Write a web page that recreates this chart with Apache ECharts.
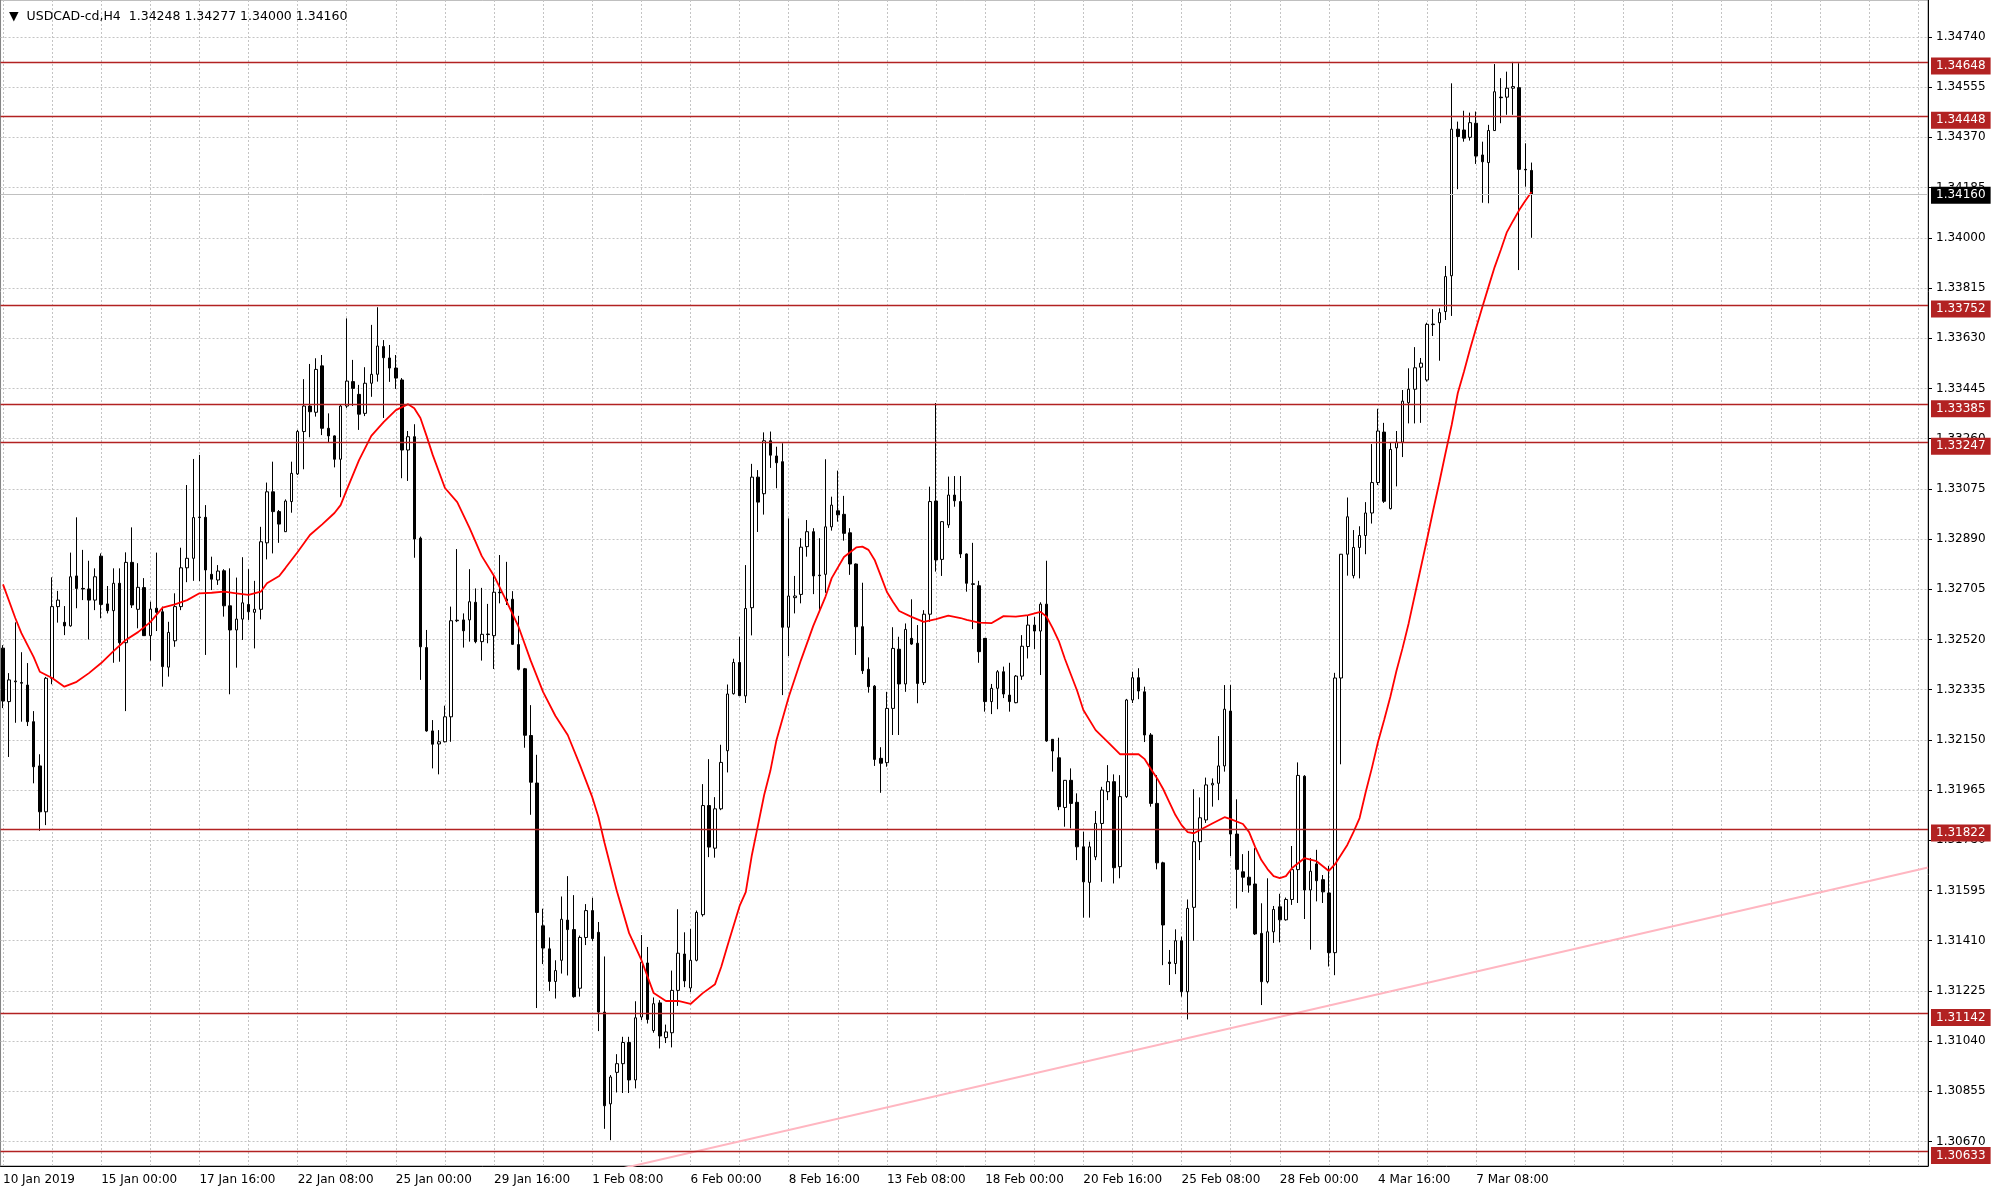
<!DOCTYPE html>
<html><head><meta charset="utf-8">
<script src="https://cdn.jsdelivr.net/npm/echarts@6/dist/echarts.min.js"></script>
<style>html,body{margin:0;padding:0;background:#fff}#c{width:2000px;height:1194px}</style>
</head><body><div id="c"></div>
<script>
// ---- data (USDCAD H4, bar 0 = 10 Jan 2019 08:00) ----
const openP = [
1.32488,1.32291,1.32364,1.32361,1.32352,1.32217,1.32054,1.31885,1.32377,1.32641,
1.32583,1.32570,1.32754,1.32708,1.32706,1.32665,1.32827,1.32651,1.32626,1.32727,
1.32508,1.32804,1.32631,1.32711,1.32534,1.32635,1.32622,1.32418,1.32515,1.32641,
1.32784,1.32819,1.32969,1.32970,1.32760,1.32739,1.32773,1.32644,1.32555,1.32595,
1.32649,1.32620,1.32631,1.32876,1.33064,1.32991,1.32917,1.33028,1.33130,1.33286,
1.33380,1.33357,1.33528,1.33298,1.33270,1.33184,1.33380,1.33470,1.33423,1.33353,
1.33464,1.33497,1.33599,1.33557,1.33520,1.33476,1.33218,1.33267,1.32893,1.32490,
1.32183,1.32135,1.32143,1.32235,1.32589,1.32592,1.32592,1.32657,1.32512,1.32540,
1.32534,1.32694,1.32669,1.32668,1.32501,1.32412,1.32166,1.31991,1.31465,1.31380,
1.31260,1.31338,1.31486,1.31451,1.31235,1.31422,1.31521,1.31441,1.31147,1.30809,
1.30925,1.30957,1.31035,1.30897,1.31129,1.31328,1.31079,1.31181,1.31053,1.31071,
1.31227,1.31361,1.31236,1.31338,1.31506,1.31908,1.31751,1.31896,1.32110,1.32320,
1.32435,1.32312,1.32637,1.33118,1.33057,1.33252,1.33196,1.33175,1.32565,1.32674,
1.32686,1.32862,1.32917,1.32757,1.32760,1.32935,1.32994,1.32981,1.32913,1.32798,
1.32567,1.32410,1.32348,1.32082,1.32066,1.32266,1.32484,1.32356,1.32524,1.32506,
1.32361,1.32613,1.33030,1.32815,1.32942,1.33052,1.33028,1.32835,1.32725,1.32718,
1.32524,1.32291,1.32340,1.32401,1.32315,1.32287,1.32385,1.32494,1.32573,1.32551,
1.32650,1.32152,1.32084,1.31901,1.32001,1.31920,1.31756,1.31625,1.31719,1.31842,
1.31959,1.31996,1.31683,1.31941,1.32297,1.32379,1.32327,1.32168,1.31916,1.31697,
1.31331,1.31326,1.31410,1.31222,1.31533,1.31775,1.31855,1.31984,1.31990,1.32054,
1.32256,1.31803,1.31664,1.31644,1.31619,1.31437,1.31259,1.31443,1.31535,1.31487,
1.31562,1.31672,1.32016,1.31597,1.31693,1.31635,1.31586,1.31366,1.32378,1.32834,
1.32755,1.32859,1.32903,1.32986,1.33098,1.33284,1.33002,1.33226,1.33247,1.33392,
1.33442,1.33523,1.33476,1.33682,1.33687,1.33728,1.33860,1.34400,1.34397,1.34370,
1.34422,1.34305,1.34277,1.34395,1.34518,1.34518,1.34551,1.34553,1.34252,1.34248];
const highP = [
1.32499,1.32396,1.32583,1.32473,1.32433,1.32256,1.32097,1.32382,1.32749,1.32699,
1.32643,1.32840,1.32970,1.32850,1.32810,1.32782,1.32837,1.32717,1.32782,1.32782,
1.32841,1.32933,1.32801,1.32746,1.32659,1.32840,1.32641,1.32585,1.32690,1.32858,
1.33089,1.33185,1.33200,1.33015,1.32825,1.32794,1.32779,1.32782,1.32748,1.32823,
1.32779,1.32736,1.32935,1.33098,1.33175,1.32997,1.33036,1.33175,1.33292,1.33479,
1.33535,1.33556,1.33568,1.33353,1.33272,1.33384,1.33703,1.33550,1.33458,1.33523,
1.33679,1.33744,1.33623,1.33605,1.33568,1.33483,1.33288,1.33313,1.32899,1.32555,
1.32223,1.32186,1.32276,1.32641,1.32853,1.32616,1.32779,1.32708,1.32710,1.32651,
1.32755,1.32831,1.32806,1.32698,1.32607,1.32415,1.32278,1.32095,1.31528,1.31422,
1.31338,1.31573,1.31648,1.31578,1.31429,1.31545,1.31568,1.31479,1.31352,1.30915,
1.30992,1.31056,1.31056,1.31187,1.31431,1.31387,1.31201,1.31191,1.31101,1.31300,
1.31526,1.31441,1.31453,1.31521,1.31987,1.32079,1.31939,1.32132,1.32354,1.32449,
1.32530,1.32794,1.33167,1.33144,1.33283,1.33286,1.33230,1.33243,1.32966,1.32754,
1.32893,1.32960,1.32930,1.32893,1.33184,1.33046,1.33142,1.33049,1.32930,1.32800,
1.32729,1.32454,1.32352,1.32123,1.32327,1.32565,1.32530,1.32579,1.32668,1.32573,
1.32628,1.33083,1.33391,1.32956,1.33120,1.33122,1.33122,1.32837,1.32876,1.32736,
1.32525,1.32356,1.32407,1.32420,1.32434,1.32389,1.32536,1.32607,1.32603,1.32657,
1.32810,1.32153,1.32158,1.32002,1.32045,1.31953,1.31812,1.31775,1.31888,1.31977,
1.32057,1.32023,1.32020,1.32301,1.32401,1.32414,1.32346,1.32175,1.32020,1.31701,
1.31376,1.31452,1.31425,1.31562,1.31968,1.31938,1.32011,1.32008,1.32164,1.32352,
1.32352,1.31931,1.31729,1.31741,1.31751,1.31548,1.31640,1.31538,1.31583,1.31569,
1.31759,1.32067,1.32020,1.31715,1.31745,1.31652,1.31686,1.32397,1.32835,1.33043,
1.32923,1.32937,1.33026,1.33240,1.33370,1.33318,1.33247,1.33288,1.33439,1.33519,
1.33597,1.33557,1.33687,1.33737,1.33740,1.33896,1.34569,1.34428,1.34468,1.34461,
1.34465,1.34354,1.34416,1.34640,1.34588,1.34612,1.34648,1.34643,1.34348,1.34277];
const lowP = [
1.32267,1.32087,1.32213,1.32217,1.32201,1.31990,1.31815,1.31836,1.32355,1.32582,
1.32536,1.32567,1.32635,1.32665,1.32520,1.32628,1.32598,1.32616,1.32434,1.32438,
1.32256,1.32636,1.32561,1.32533,1.32442,1.32551,1.32346,1.32383,1.32493,1.32628,
1.32731,1.32736,1.32735,1.32463,1.32702,1.32721,1.32604,1.32318,1.32416,1.32518,
1.32592,1.32487,1.32594,1.32815,1.32837,1.32876,1.32916,1.32987,1.33126,1.33147,
1.33265,1.33341,1.33273,1.33245,1.33154,1.33044,1.33373,1.33380,1.33292,1.33343,
1.33414,1.33470,1.33336,1.33469,1.33443,1.33114,1.33104,1.32821,1.32371,1.32180,
1.32045,1.32023,1.32141,1.32143,1.32584,1.32490,1.32512,1.32506,1.32442,1.32506,
1.32411,1.32653,1.32647,1.32500,1.32406,1.32121,1.31874,1.31162,1.31324,1.31225,
1.31197,1.31289,1.31282,1.31200,1.31204,1.31394,1.31409,1.31077,1.30717,1.30675,
1.30851,1.30849,1.30849,1.30866,1.31118,1.31105,1.31071,1.31013,1.31033,1.31017,
1.31170,1.31239,1.31221,1.31334,1.31499,1.31718,1.31716,1.31891,1.32030,1.32317,
1.32312,1.32286,1.32535,1.32916,1.32980,1.33152,1.33077,1.32315,1.32459,1.32616,
1.32653,1.32825,1.32687,1.32626,1.32692,1.32921,1.32954,1.32884,1.32758,1.32463,
1.32393,1.32324,1.32054,1.31955,1.32051,1.32168,1.32168,1.32327,1.32500,1.32285,
1.32352,1.32585,1.32770,1.32754,1.32931,1.33009,1.32820,1.32696,1.32558,1.32434,
1.32254,1.32245,1.32263,1.32304,1.32254,1.32285,1.32371,1.32450,1.32485,1.32389,
1.32143,1.32033,1.31891,1.31830,1.31824,1.31707,1.31495,1.31495,1.31707,1.31627,
1.31928,1.31621,1.31640,1.31936,1.32286,1.32300,1.32142,1.31904,1.31673,1.31320,
1.31247,1.31287,1.31204,1.31120,1.31410,1.31707,1.31844,1.31904,1.31928,1.32033,
1.31722,1.31529,1.31590,1.31587,1.31431,1.31173,1.31253,1.31402,1.31404,1.31484,
1.31542,1.31549,1.31490,1.31377,1.31555,1.31549,1.31315,1.31283,1.32060,1.32755,
1.32745,1.32745,1.32834,1.32947,1.33089,1.33023,1.32999,1.33084,1.33192,1.33316,
1.33316,1.33318,1.33470,1.33638,1.33547,1.33697,1.33712,1.34179,1.34354,1.34358,
1.34272,1.34129,1.34127,1.34394,1.34422,1.34453,1.34453,1.33881,1.34188,1.34000];
const closeP = [
1.32293,1.32371,1.32367,1.32359,1.32217,1.32051,1.31885,1.32377,1.32641,1.32665,
1.32570,1.32751,1.32708,1.32706,1.32665,1.32751,1.32649,1.32626,1.32727,1.32508,
1.32804,1.32647,1.32712,1.32534,1.32632,1.32620,1.32420,1.32546,1.32641,1.32784,
1.32819,1.32969,1.32971,1.32776,1.32742,1.32772,1.32644,1.32555,1.32595,1.32655,
1.32622,1.32631,1.32880,1.33064,1.32991,1.32945,1.33030,1.33132,1.33286,1.33380,
1.33359,1.33515,1.33298,1.33270,1.33184,1.33380,1.33472,1.33445,1.33350,1.33464,
1.33497,1.33601,1.33558,1.33520,1.33483,1.33218,1.33267,1.32890,1.32493,1.32183,
1.32134,1.32143,1.32235,1.32589,1.32591,1.32552,1.32659,1.32512,1.32539,1.32538,
1.32694,1.32692,1.32662,1.32502,1.32410,1.32167,1.31994,1.31514,1.31383,1.31260,
1.31300,1.31489,1.31451,1.31204,1.31422,1.31521,1.31418,1.31147,1.30802,1.30908,
1.30957,1.31035,1.30897,1.31126,1.31331,1.31120,1.31178,1.31059,1.31074,1.31227,
1.31364,1.31262,1.31338,1.31514,1.31908,1.31755,1.31896,1.32067,1.32319,1.32435,
1.32313,1.32634,1.33118,1.33026,1.33252,1.33199,1.33171,1.32565,1.32680,1.32680,
1.32860,1.32917,1.32754,1.32755,1.32935,1.33015,1.32979,1.32911,1.32798,1.32567,
1.32405,1.32346,1.32078,1.32064,1.32266,1.32487,1.32356,1.32557,1.32503,1.32358,
1.32613,1.33028,1.32813,1.32954,1.33052,1.33031,1.32835,1.32727,1.32723,1.32475,
1.32291,1.32340,1.32401,1.32319,1.32291,1.32385,1.32495,1.32573,1.32551,1.32650,
1.32146,1.32109,1.31904,1.32001,1.31916,1.31756,1.31627,1.31756,1.31842,1.31965,
1.31996,1.31679,1.31941,1.32297,1.32379,1.32330,1.32168,1.31916,1.31697,1.31468,
1.31326,1.31410,1.31222,1.31529,1.31775,1.31863,1.31984,1.31990,1.32054,1.32263,
1.31803,1.31673,1.31644,1.31615,1.31435,1.31259,1.31443,1.31525,1.31487,1.31562,
1.31672,1.32019,1.31597,1.31666,1.31631,1.31590,1.31366,1.32378,1.32834,1.32972,
1.32859,1.32903,1.32986,1.33098,1.33288,1.33029,1.33220,1.33247,1.33398,1.33442,
1.33521,1.33538,1.33681,1.33680,1.33724,1.33857,1.34400,1.34373,1.34367,1.34424,
1.34301,1.34280,1.34395,1.34538,1.34516,1.34551,1.34557,1.34252,1.34250,1.34160];

// moving average (red line), read at these bars
const maBars = [0,2,3,5,6,8,10,12,14,16,18,20,22,24,26,28,30,32,34,36,38,40,42,43,45,46,48,50,52,54,55,56,58,60,62,64,66,67,68,69,70,72,74,76,78,80,82,84,86,88,90,92,94,96,97,98,100,102,104,106,108,110,112,114,116,117,118,120,121,122,123,124,125,126,128,130,132,134,135,137,139,140,141,142,143,144,145,146,148,150,152,154,156,157,159,161,163,165,167,169,170,171,172,173,174,175,176,178,180,182,185,186,187,188,189,190,191,192,193,194,195,197,199,200,202,203,204,205,206,207,208,209,210,212,214,216,217,219,220,221,222,223,224,225,226,227,228,229,230,231,232,233,234,235,236,237,238,239,240,241,242,243,244,245,246,247,248,249];
const maValues = [1.32723,1.32599,1.32543,1.32455,1.32401,1.32378,1.32346,1.32364,1.32396,1.32433,1.32477,1.32518,1.32547,1.32584,1.32637,1.32649,1.32665,1.32690,1.32692,1.32696,1.32690,1.32684,1.32696,1.32727,1.32754,1.32783,1.32842,1.32905,1.32944,1.32986,1.33015,1.33071,1.33181,1.33270,1.33321,1.33365,1.33387,1.33372,1.33336,1.33270,1.33200,1.33078,1.33026,1.32931,1.32827,1.32754,1.32662,1.32566,1.32440,1.32326,1.32238,1.32168,1.32057,1.31939,1.31866,1.31770,1.31593,1.31438,1.31339,1.31217,1.31188,1.31188,1.31177,1.31217,1.31250,1.31313,1.31390,1.31538,1.31589,1.31726,1.31836,1.31947,1.32035,1.32149,1.32308,1.32444,1.32570,1.32678,1.32746,1.32824,1.32859,1.32862,1.32850,1.32813,1.32754,1.32695,1.32658,1.32625,1.32603,1.32585,1.32595,1.32608,1.32599,1.32592,1.32582,1.32580,1.32606,1.32604,1.32610,1.32622,1.32604,1.32562,1.32514,1.32448,1.32389,1.32330,1.32260,1.32186,1.32142,1.32097,1.32097,1.32079,1.32043,1.32009,1.31969,1.31921,1.31873,1.31836,1.31810,1.31806,1.31818,1.31842,1.31865,1.31858,1.31840,1.31810,1.31755,1.31707,1.31674,1.31648,1.31641,1.31648,1.31678,1.31714,1.31703,1.31667,1.31692,1.31763,1.31810,1.31862,1.31958,1.32046,1.32142,1.32223,1.32308,1.32404,1.32488,1.32580,1.32684,1.32787,1.32890,1.32997,1.33100,1.33207,1.33310,1.33428,1.33506,1.33590,1.33668,1.33745,1.33819,1.33892,1.33955,1.34021,1.34062,1.34102,1.34136,1.34169];

const levelPrices = [1.34648,1.34448,1.33752,1.33385,1.33247,1.31822,1.31142,1.30633];
const bidPrice = 1.34160;
const trendBars = [94.9, 313.6];
const trendPrices = [1.30540, 1.31680];

const yTicks = [1.30670,1.30855,1.31040,1.31225,1.31410,1.31595,1.31780,1.31965,1.32150,1.32335,1.32520,1.32705,1.32890,1.33075,1.33260,1.33445,1.33630,1.33815,1.34000,1.34185,1.34370,1.34555,1.34740];
const timeLabelBars = [0,16,32,48,64,80,96,112,128,144,160,176,192,208,224,240];
const timeLabels = ['10 Jan 2019','15 Jan 00:00','17 Jan 16:00','22 Jan 08:00','25 Jan 00:00','29 Jan 16:00','1 Feb 08:00','6 Feb 00:00','8 Feb 16:00','13 Feb 08:00','18 Feb 00:00','20 Feb 16:00','25 Feb 08:00','28 Feb 00:00','4 Mar 16:00','7 Mar 08:00'];
const gridBars = [0,8,16,24,32,40,48,56,64,72,80,88,96,104,112,120,128,136,144,152,160,168,176,184,192,200,208,216,224,232,240,248,256,264,272,280,288,296,304,312];
const headerText = '\u25BC  USDCAD-cd,H4  1.34248 1.34277 1.34000 1.34160';

// ---- chart ----
const FONT = 'DejaVu Sans';
const candleData = openP.map((o, i) => [i, o, closeP[i], lowP[i], highP[i]]);
const maData = maBars.map((b, i) => [b, maValues[i]]);
const trendData = trendBars.map((b, i) => [b, trendPrices[i]]);

const LEVEL_COLOR = '#b22222';
function priceLabel(bg, dy) {
  return {
    show: true, position: 'end', distance: 3, offset: [0, dy],
    formatter: p => Number(p.value).toFixed(5),
    color: '#fff', backgroundColor: bg, padding: [3, 5, 2, 5],
    fontFamily: FONT, fontSize: 12
  };
}
const markData = levelPrices.map(v => ({
  yAxis: v,
  lineStyle: { color: LEVEL_COLOR, width: 1.3, type: 'solid' },
  label: priceLabel(LEVEL_COLOR, 4)
}));
markData.push({
  yAxis: bidPrice,
  lineStyle: { color: '#c0c0c0', width: 1, type: 'solid' },
  label: priceLabel('#000', 1)
});

const gridLine = { color: '#c4c4c4', type: [2, 2], width: 1 };

const option = {
  animation: false,
  backgroundColor: '#ffffff',
  title: {
    text: headerText, left: 4, top: 5,
    textStyle: { fontFamily: FONT, fontSize: 12.5, fontWeight: 'normal', color: '#000' }
  },
  grid: { left: 0, right: 72, top: 0, bottom: 28, show: true, borderColor: '#808080', borderWidth: 1, backgroundColor: 'transparent' },
  xAxis: {
    type: 'value', min: -0.4, max: 313.6,
    axisLine: { show: true, onZero: false, lineStyle: { color: '#000' } },
    axisTick: { show: false, customValues: gridBars },
    splitLine: { show: true, customValues: gridBars, lineStyle: gridLine },
    axisLabel: {
      customValues: timeLabelBars,
      formatter: v => { const k = timeLabelBars.indexOf(Math.round(v)); return k >= 0 ? timeLabels[k] : ''; },
      align: 'left', margin: 8, color: '#000', fontFamily: FONT, fontSize: 12
    }
  },
  yAxis: {
    type: 'value', position: 'right', min: 1.30580, max: 1.34876,
    axisLine: { show: true, onZero: false, lineStyle: { color: '#000' } },
    axisTick: { show: true, customValues: yTicks, length: 4, lineStyle: { color: '#000' } },
    splitLine: { show: true, customValues: yTicks, lineStyle: gridLine },
    axisLabel: {
      customValues: yTicks, formatter: v => Number(v).toFixed(5),
      color: '#000', fontFamily: FONT, fontSize: 12, margin: 8
    }
  },
  series: [
    {
      type: 'line', data: trendData, showSymbol: false, silent: true,
      lineStyle: { color: '#ffb6c1', width: 2 }, z: 1
    },
    {
      type: 'candlestick', data: candleData, barWidth: 3,
      itemStyle: { color: '#ffffff', color0: '#000000', borderColor: '#000000', borderColor0: '#000000', borderWidth: 1 },
      markLine: { symbol: ['none', 'none'], precision: 5, silent: true, animation: false, data: markData },
      z: 3
    },
    {
      type: 'line', data: maData, showSymbol: false, silent: true,
      lineStyle: { color: '#ff0000', width: 1.8 }, z: 4
    }
  ]
};

const chart = echarts.init(document.getElementById('c'), null, { renderer: 'canvas', width: 2000, height: 1194 });
chart.setOption(option);
</script>
</body></html>
